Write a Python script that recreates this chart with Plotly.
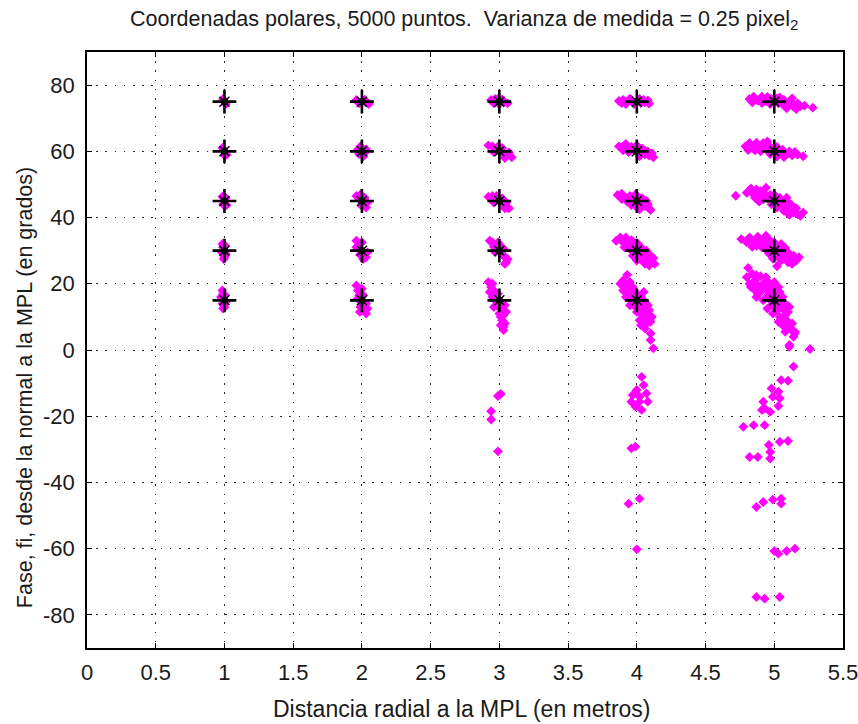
import plotly.graph_objects as go

# Posiciones reales de los blancos (distancia en metros, fase en grados)
distancias_reales = [1, 2, 3, 4, 5]
fases_reales = [15, 30, 45, 60, 75]

# Estimaciones medidas (distancia, fase) agrupadas por distancia real
medidas_1m = [
    (1.00, 75.0), (0.99, 75.8), (1.01, 74.3),
    (1.00, 60.0), (0.985, 61.0), (1.015, 59.0), (1.00, 58.8),
    (1.00, 45.0), (0.985, 46.3), (1.015, 43.8), (0.99, 44.0), (1.01, 46.0),
    (1.00, 30.0), (0.985, 32.0), (0.99, 31.0), (1.00, 28.0), (1.01, 29.0),
    (0.98, 29.5), (0.995, 27.5), (1.005, 31.5),
    (0.985, 18.0), (0.99, 17.0), (0.975, 16.0), (1.00, 15.0), (0.985, 14.0),
    (1.00, 13.0), (0.99, 12.5), (1.01, 14.5), (0.98, 15.5), (1.005, 16.5),
]

medidas_2m = [
    (1.96, 75.5), (2.00, 75.0), (2.03, 74.7), (2.05, 74.3), (1.98, 74.5), (2.02, 75.6),
    (1.97, 60.5), (2.00, 60.0), (2.02, 59.5), (1.99, 61.5), (2.01, 58.5), (1.98, 59.2),
    (2.03, 60.6),
    (1.96, 46.5), (1.98, 45.5), (2.00, 45.0), (2.02, 44.0), (2.03, 43.0), (2.02, 46.0),
    (1.99, 47.0), (2.04, 44.5), (2.00, 43.5),
    (1.96, 33.0), (1.97, 31.5), (1.98, 30.5), (2.00, 30.0), (2.02, 29.0), (2.03, 28.0),
    (2.00, 32.5), (1.985, 28.8), (2.04, 29.5), (1.96, 31.0), (2.01, 27.5),
    (1.96, 19.5), (1.97, 18.0), (1.98, 16.5), (2.00, 15.0), (2.01, 13.5), (2.02, 12.0),
    (2.03, 11.0), (2.03, 14.0), (1.99, 13.0), (1.97, 15.5), (2.00, 18.5), (2.04, 12.5),
    (2.01, 16.5), (1.985, 11.5),
]

medidas_3m = [
    (2.94, 75.5), (2.97, 75.8), (3.00, 75.0), (3.03, 74.8), (3.06, 74.5), (2.96, 74.5),
    (3.02, 75.7), (3.00, 74.2), (2.99, 75.9),
    (2.92, 61.8), (2.95, 61.5), (2.97, 60.8), (3.00, 60.0), (3.03, 59.3), (3.06, 58.8),
    (3.09, 58.2), (2.96, 59.8), (3.02, 61.0), (3.04, 58.0), (2.99, 61.5), (3.07, 59.7),
    (2.92, 46.3), (2.95, 46.5), (2.97, 45.5), (3.00, 45.0), (3.03, 44.0), (3.06, 43.0),
    (3.07, 42.8), (2.98, 46.5), (3.02, 45.8), (3.04, 42.8), (2.96, 44.5), (3.05, 44.5),
    (2.93, 33.0), (2.95, 32.5), (2.96, 31.2), (2.98, 30.5), (3.00, 30.0), (3.02, 29.0),
    (3.04, 28.0), (3.05, 26.5), (3.06, 27.5), (2.99, 32.5), (3.02, 31.0), (2.97, 29.5),
    (3.03, 30.5), (3.04, 26.0),
    (2.92, 20.5), (2.94, 19.0), (2.93, 17.5), (2.96, 18.0), (2.95, 16.0), (2.97, 15.0),
    (3.00, 15.0), (2.98, 13.5), (3.01, 12.5), (3.00, 11.0), (3.03, 10.5), (3.02, 9.0),
    (3.04, 8.0), (3.03, 7.0), (3.05, 11.5), (3.02, 14.0), (2.99, 17.0), (2.96, 13.0),
    (3.04, 13.5), (3.01, 7.5), (3.03, 6.0), (2.95, 20.0), (2.98, 16.0), (3.01, 10.0),
    (2.99, -13.9), (3.01, -13.3), (2.94, -18.5), (2.94, -21.0), (2.99, -30.6),
]

medidas_4m = [
    (3.87, 75.2), (3.90, 75.5), (3.93, 75.0), (3.96, 75.6), (4.00, 75.0), (4.03, 74.6),
    (4.06, 74.8), (4.09, 74.4), (3.92, 74.3), (3.98, 74.3), (4.02, 75.8), (4.05, 75.5),
    (3.95, 75.9), (3.89, 74.6), (4.08, 75.4),
    (3.87, 61.5), (3.90, 61.5), (3.93, 60.8), (3.96, 61.3), (3.98, 60.3), (4.00, 60.0),
    (4.03, 59.5), (4.06, 59.0), (4.09, 58.7), (4.12, 58.2), (3.94, 59.8), (4.00, 61.8),
    (4.04, 60.8), (4.08, 60.0), (4.02, 58.5), (3.90, 60.3), (3.92, 62.2), (4.06, 60.2),
    (4.11, 59.4),
    (3.86, 46.8), (3.89, 47.2), (3.92, 46.0), (3.95, 46.5), (3.97, 45.3), (4.00, 45.0),
    (4.03, 44.3), (4.06, 43.5), (4.09, 42.8), (4.10, 42.3), (3.93, 44.8), (3.99, 47.0),
    (4.04, 45.8), (4.07, 45.0), (4.02, 42.5), (3.96, 43.8), (3.89, 45.6), (4.01, 46.3),
    (4.08, 44.0), (3.99, 43.5),
    (3.88, 34.0), (3.92, 34.0), (3.90, 32.5), (3.94, 32.0), (3.95, 30.5), (3.98, 31.5),
    (4.00, 30.0), (4.02, 29.0), (4.05, 28.5), (4.08, 27.5), (4.11, 26.5), (4.13, 26.0),
    (3.97, 28.5), (4.03, 31.0), (4.07, 30.0), (4.10, 28.5), (3.85, 33.0), (4.00, 27.0),
    (4.06, 26.0), (3.91, 31.0), (3.96, 33.2), (4.01, 32.0), (4.04, 27.0), (4.09, 25.5),
    (3.99, 29.0), (4.12, 27.8),
    (3.88, 20.0), (3.91, 19.5), (3.90, 18.0), (3.93, 18.5), (3.94, 17.0), (3.97, 16.5),
    (3.96, 15.0), (4.00, 15.0), (4.02, 14.0), (3.99, 13.0), (4.04, 12.5), (4.03, 11.0),
    (4.06, 11.5), (4.05, 9.5), (4.08, 10.0), (4.07, 8.0), (4.10, 8.5), (4.01, 16.5),
    (4.06, 14.5), (3.98, 18.0), (4.09, 12.0), (4.03, 7.5), (3.93, 22.7), (4.10, 5.0),
    (4.10, 3.0), (4.12, 0.5), (3.95, 20.5), (3.90, 21.0), (3.92, 16.0), (3.95, 13.5),
    (4.03, 16.0), (4.00, 11.5), (4.08, 13.5), (4.05, 17.5), (3.97, 19.0), (4.02, 9.0),
    (4.11, 10.0), (4.06, 6.5),
    (4.035, -8.1), (4.05, -10.6), (4.00, -12.1), (3.97, -13.6), (4.02, -14.1),
    (4.07, -13.1), (3.96, -15.6), (4.02, -15.6), (3.99, -17.1), (4.035, -18.1),
    (4.08, -15.6), (3.99, -29.2), (3.96, -29.7), (4.02, -44.9), (3.94, -46.4),
    (4.00, -60.2),
]

medidas_5m = [
    (4.82, 75.8), (4.85, 76.5), (4.88, 75.3), (4.91, 76.5), (4.94, 75.2), (4.95, 76.4),
    (4.98, 75.8), (5.00, 75.0), (5.03, 74.5), (5.02, 76.0), (5.06, 74.2), (5.07, 75.5),
    (5.10, 74.0), (5.12, 75.0), (5.14, 73.5), (5.17, 74.5), (5.19, 73.6), (5.22, 73.8),
    (5.16, 72.8), (5.28, 73.2), (4.97, 74.3), (5.09, 73.0), (4.84, 74.8), (4.91, 74.6),
    (5.04, 76.3), (5.13, 76.0),
    (4.79, 61.5), (4.82, 62.5), (4.84, 61.0), (4.87, 62.6), (4.89, 61.5), (4.92, 62.5),
    (4.94, 60.8), (4.96, 61.8), (4.99, 60.5), (5.00, 60.0), (5.02, 61.3), (5.04, 59.3),
    (5.06, 60.5), (5.09, 59.0), (5.11, 60.0), (5.13, 58.8), (5.15, 59.8), (4.90, 60.0),
    (5.07, 58.3), (5.21, 58.5), (4.97, 59.2), (4.86, 60.3), (4.95, 63.0), (5.02, 58.4),
    (5.17, 59.0), (4.81, 60.4),
    (4.72, 46.6), (4.80, 47.5), (4.83, 48.8), (4.85, 47.0), (4.87, 48.5), (4.89, 46.5),
    (4.90, 48.0), (4.93, 47.2), (4.95, 45.8), (4.97, 46.8), (5.00, 45.0), (5.00, 47.0),
    (5.03, 44.5), (5.04, 46.0), (5.06, 43.5), (5.08, 45.0), (5.10, 42.5), (5.12, 44.0),
    (5.14, 41.5), (5.16, 42.8), (5.19, 40.5), (5.21, 41.5), (4.98, 44.0), (5.07, 42.0),
    (4.92, 45.5), (4.86, 46.0), (4.94, 49.0), (5.02, 43.0), (5.11, 40.8), (5.17, 41.0),
    (4.89, 44.8), (5.09, 46.0),
    (4.76, 33.5), (4.82, 34.0), (4.85, 33.0), (4.88, 34.2), (4.90, 32.5), (4.92, 33.5),
    (4.95, 32.0), (4.97, 33.0), (4.98, 31.0), (5.00, 30.0), (5.02, 31.5), (5.04, 29.0),
    (5.06, 30.5), (5.08, 28.5), (5.10, 29.5), (5.12, 27.5), (5.14, 28.5), (5.16, 27.0),
    (5.18, 28.0), (5.10, 26.5), (5.05, 27.0), (5.02, 25.3), (4.81, 24.8), (4.94, 30.5),
    (4.87, 31.5), (4.80, 32.5), (4.84, 31.2), (4.91, 31.0), (4.96, 29.2), (5.00, 32.5),
    (5.03, 28.0), (5.08, 30.8), (5.13, 26.0), (4.99, 27.6), (4.94, 34.5), (5.05, 32.0),
    (4.80, 22.0), (4.84, 23.0), (4.86, 21.0), (4.90, 22.3), (4.88, 19.5), (4.92, 20.0),
    (4.85, 18.5), (4.90, 17.5), (4.94, 18.5), (4.96, 16.8), (5.00, 15.0), (4.93, 15.5),
    (4.98, 13.5), (5.02, 17.0), (5.04, 14.5), (5.06, 16.0), (5.02, 12.0), (5.06, 12.5),
    (5.08, 10.5), (5.04, 10.0), (5.10, 8.5), (5.06, 7.5), (5.12, 6.5), (5.15, 5.5),
    (5.10, 11.5), (4.97, 19.5), (5.00, 20.5), (4.87, 16.0), (5.14, 4.0),
    (4.82, 20.0), (4.87, 22.6), (4.94, 22.0), (4.91, 19.2), (4.95, 20.8), (4.99, 18.3),
    (4.88, 17.0), (4.92, 15.0), (4.97, 15.2), (5.01, 13.2), (5.04, 17.5), (5.08, 14.0),
    (4.95, 12.5), (4.99, 11.0), (5.03, 8.5), (5.07, 9.5), (5.11, 13.0), (5.09, 6.8),
    (5.13, 8.0), (5.00, 16.8), (4.83, 19.0), (5.03, 19.0),
    (5.08, 5.5), (5.15, 5.0), (5.11, 1.5), (5.11, 1.0), (5.26, 0.3), (5.14, -5.0),
    (5.05, -9.1), (5.10, -9.3), (4.98, -11.6), (5.03, -12.6), (4.99, -14.1), (4.92, -15.6),
    (5.04, -14.6), (5.03, -16.9), (4.93, -17.6), (4.97, -18.7), (4.91, -18.1),
    (4.775, -23.2), (4.85, -22.7), (4.93, -22.7),
    (4.96, -28.7), (5.04, -27.7), (5.10, -27.5), (4.97, -30.8), (4.82, -32.3),
    (4.88, -32.3), (4.97, -32.8),
    (4.92, -45.9), (4.87, -47.4), (4.99, -45.2), (5.05, -44.9), (5.05, -46.4),
    (5.00, -60.7), (5.03, -61.5), (5.09, -60.7), (5.15, -60.0),
    (4.87, -74.6), (4.93, -75.1), (5.04, -74.6),
]

medidas = medidas_1m + medidas_2m + medidas_3m + medidas_4m + medidas_5m
r_med = [p[0] for p in medidas]
fi_med = [p[1] for p in medidas]

r_real = [r for r in distancias_reales for _ in fases_reales]
fi_real = [f for _ in distancias_reales for f in fases_reales]

FUENTE = "Liberation Sans"
TEXTO = "#1a1a1a"

fig = go.Figure()

fig.add_trace(go.Scatter(
    x=r_med, y=fi_med, mode="markers",
    marker=dict(symbol="diamond", size=7.6, color="#ff00ff", line=dict(width=0)),
    hoverinfo="x+y", showlegend=False,
))

# Marcador tipo asterisco: cruz larga + aspa corta + punto central
fig.add_trace(go.Scatter(
    x=r_real, y=fi_real, mode="markers",
    marker=dict(symbol="cross-thin-open", size=17, color="black",
                line=dict(width=2.6, color="black")),
    hoverinfo="skip", showlegend=False,
))
fig.add_trace(go.Scatter(
    x=r_real, y=fi_real, mode="markers",
    marker=dict(symbol="x-thin-open", size=10, color="black",
                line=dict(width=1.5, color="black")),
    hoverinfo="skip", showlegend=False,
))
fig.add_trace(go.Scatter(
    x=r_real, y=fi_real, mode="markers",
    marker=dict(symbol="circle", size=7, color="black", line=dict(width=0)),
    hoverinfo="x+y", showlegend=False,
))

eje = dict(
    showline=True, linecolor="black", linewidth=1.5, mirror="ticks",
    ticks="inside", ticklen=5, tickwidth=1.2, tickcolor="black",
    showgrid=True, gridcolor="#2a2a2a", gridwidth=1.3, griddash="1.5px,7.7px",
    zeroline=False, automargin=False, ticklabeloverflow="allow",
    tickfont=dict(family=FUENTE, size=22, color=TEXTO),
)

fig.update_xaxes(
    range=[0, 5.5], tickvals=[0, 0.5, 1, 1.5, 2, 2.5, 3, 3.5, 4, 4.5, 5, 5.5],
    ticktext=["0", "0.5", "1", "1.5", "2", "2.5", "3", "3.5", "4", "4.5", "5", "5.5"],
    ticklabelstandoff=4, **eje,
)
fig.update_yaxes(
    range=[-90, 90], tickvals=[-80, -60, -40, -20, 0, 20, 40, 60, 80],
    ticktext=["-80", "-60", "-40", "-20", "0", "20", "40", "60", "80"],
    ticklabelstandoff=6, **eje,
)

fig.update_layout(
    width=858, height=724,
    margin=dict(l=87, r=15, t=52, b=76, autoexpand=False),
    plot_bgcolor="white", paper_bgcolor="white",
    title=dict(
        text="Coordenadas polares, 5000 puntos.  Varianza de medida = 0.25 pixel<sub>2</sub>",
        x=0.541, xanchor="center", y=0.975, yanchor="middle",
        font=dict(family=FUENTE, size=21.5, color=TEXTO),
    ),
    annotations=[
        dict(text="Distancia radial a la MPL (en metros)", xref="paper", yref="paper",
             x=0.496, y=-0.102, xanchor="center", yanchor="middle", showarrow=False,
             font=dict(family=FUENTE, size=23, color=TEXTO)),
        dict(text="Fase, fi, desde la normal a la MPL (en grados)", xref="paper", yref="paper",
             x=-0.082, y=0.436, xanchor="center", yanchor="middle", textangle=-90,
             showarrow=False, font=dict(family=FUENTE, size=21.5, color=TEXTO)),
    ],
)

fig.write_html("out.html")
